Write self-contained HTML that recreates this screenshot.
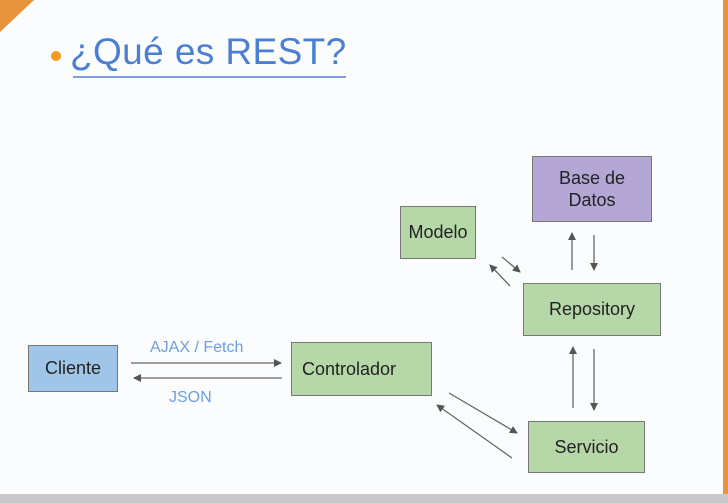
<!DOCTYPE html>
<html><head><meta charset="utf-8"><style>
body{margin:0;width:728px;height:503px;overflow:hidden;background:#fbfcfd;font-family:"Liberation Sans",sans-serif;position:relative}
.b{position:absolute;box-sizing:border-box;border:1.5px solid #777;display:flex;align-items:center;justify-content:center;text-align:center;font-size:18px;color:#222;line-height:1.25}
.g{background:#b6d7a8}
</style></head><body>
<div style="position:absolute;left:0;top:0;width:0;height:0;border-top:32px solid #e8943a;border-right:34px solid transparent"></div>
<div style="position:absolute;left:723px;top:0;width:5px;height:503px;background:#e8943a"></div>
<div style="position:absolute;left:0;top:494px;width:728px;height:9px;background:#c8c8cc"></div>
<div style="position:absolute;left:51px;top:51px;width:10px;height:10px;border-radius:50%;background:#f59a1e"></div>
<div style="position:absolute;left:70px;top:31px;font-size:37px;color:#4a7fd4;font-weight:300;letter-spacing:0.4px">¿Qué es REST?</div>
<div style="position:absolute;left:73px;top:76px;width:273px;height:2px;background:#7ba0dc"></div>
<div class="b" style="left:28px;top:345px;width:90px;height:47px;background:#9fc5e8">Cliente</div>
<div class="b g" style="left:291px;top:342px;width:141px;height:54px;justify-content:flex-start;padding-left:10px">Controlador</div>
<div class="b g" style="left:528px;top:421px;width:117px;height:52px">Servicio</div>
<div class="b g" style="left:523px;top:283px;width:138px;height:53px">Repository</div>
<div class="b g" style="left:400px;top:206px;width:76px;height:53px">Modelo</div>
<div class="b" style="left:532px;top:156px;width:120px;height:66px;background:#b4a7d6">Base de<br>Datos</div>
<div style="position:absolute;left:150px;top:339px;font-size:16px;color:#6d9eeb">AJAX / Fetch</div>
<div style="position:absolute;left:169px;top:389px;font-size:16px;color:#6d9eeb">JSON</div>
<svg width="728" height="503" style="position:absolute;left:0;top:0">
<defs><marker id="a" markerWidth="8" markerHeight="8" refX="7" refY="4" orient="auto" markerUnits="userSpaceOnUse"><path d="M0,0L8,4L0,8z" fill="#555"/></marker></defs>
<g stroke="#666" stroke-width="1.3" marker-end="url(#a)">
<line x1="131" y1="363" x2="281" y2="363"/>
<line x1="282" y1="378" x2="134" y2="378"/>
<line x1="449" y1="393" x2="517" y2="433"/>
<line x1="512" y1="458" x2="437" y2="405"/>
<line x1="573" y1="408" x2="573" y2="347"/>
<line x1="594" y1="349" x2="594" y2="410"/>
<line x1="572" y1="270" x2="572" y2="233"/>
<line x1="594" y1="235" x2="594" y2="270"/>
<line x1="502" y1="257" x2="520" y2="272"/>
<line x1="510" y1="286" x2="490" y2="265"/>
</g></svg>
</body></html>
